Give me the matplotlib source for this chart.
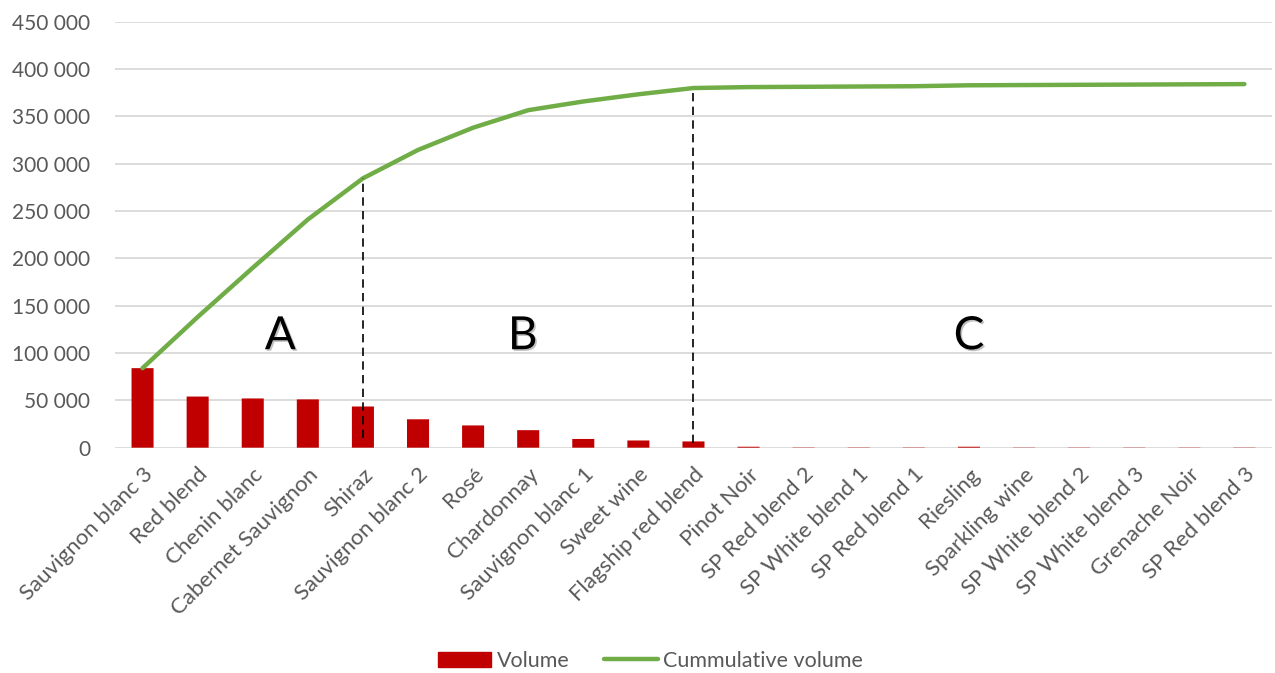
import matplotlib.pyplot as plt
import matplotlib.patheffects as pe
from matplotlib.patches import Patch
from matplotlib.lines import Line2D
from matplotlib.ticker import FuncFormatter, MultipleLocator
import numpy as np

plt.rcParams['font.family'] = ['Lato', 'DejaVu Sans']

# wine volumes, sorted high to low (Pareto / ABC)
wines = ["Sauvignon blanc 3", "Red blend", "Chenin blanc", "Cabernet Sauvignon", "Shiraz",
         "Sauvignon blanc 2", "Rosé", "Chardonnay", "Sauvignon blanc 1", "Sweet wine",
         "Flagship red blend", "Pinot Noir", "SP Red blend 2", "SP White blend 1",
         "SP Red blend 1", "Riesling", "Sparkling wine", "SP White blend 2",
         "SP White blend 3", "Grenache Noir", "SP Red blend 3"]
volume = [84000, 54000, 52000, 51000, 43500, 30000, 23500, 18500, 9200, 7600,
          6600, 1000, 300, 300, 300, 1000, 250, 250, 250, 250, 250]
cumulative = np.cumsum(volume)

# class boundaries (last item of A and of B) and class labels
cut_a = "Shiraz"
cut_b = "Flagship red blend"
classes = ["A", "B", "C"]

grey = "#595959"
fig = plt.figure(figsize=(12.75, 6.73), dpi=100)
ax = fig.add_axes([0.0902, 0.3348, 0.9074, 0.633])

x = np.arange(len(wines))
ax.bar(x, volume, width=0.4, color="#C00000", linewidth=0, snap=False, zorder=2)
ax.plot(x, cumulative, color="#70AD47", lw=3.2, solid_capstyle="round", zorder=3)

for name, ymin in [(cut_a, 10000), (cut_b, 4500)]:
    i = wines.index(name)
    ax.vlines(i, ymin, cumulative[i], colors="black", lw=1.2,
              linestyles=(0, (5, 3.2)), zorder=4)

shadow = [pe.SimplePatchShadow(offset=(1.2, -1.2), shadow_rgbFace="#777777", alpha=0.45), pe.Normal()]
for label, xpos in zip(classes, [2.5, 6.9, 15.0]):
    ax.text(xpos, 104000, label, fontsize=33, ha="center", va="baseline",
            color="black", path_effects=shadow, zorder=5)

ax.set_xlim(-0.5, len(wines) - 0.5)
ax.set_ylim(0, 450000)
ax.yaxis.set_major_locator(MultipleLocator(50000))
ax.yaxis.set_major_formatter(FuncFormatter(lambda v, _: f"{int(v):,}".replace(",", " ")))
ax.grid(axis="y", color="#D9D9D9", lw=1.3, zorder=0)
ax.set_axisbelow(True)
for s in ax.spines.values():
    s.set_visible(False)

ax.set_xticks(x)
ax.set_xticklabels(wines, rotation=45, ha="right", va="top", rotation_mode="anchor")
ax.tick_params(axis="x", length=0, pad=12, labelsize=16, labelcolor=grey)
ax.tick_params(axis="y", length=0, pad=18, labelsize=15, labelcolor=grey)

handles = [Patch(color="#C00000"), Line2D([], [], color="#70AD47", lw=3.2, solid_capstyle="round")]
fig.legend(handles, ["Volume", "Cummulative volume"], loc="center", bbox_to_anchor=(0.510, 0.018),
           ncol=2, frameon=False, fontsize=15.5, labelcolor=grey, handlelength=2.5,
           handleheight=0.7, handletextpad=0.25, columnspacing=1.6)

plt.savefig("out.png", dpi=100)
